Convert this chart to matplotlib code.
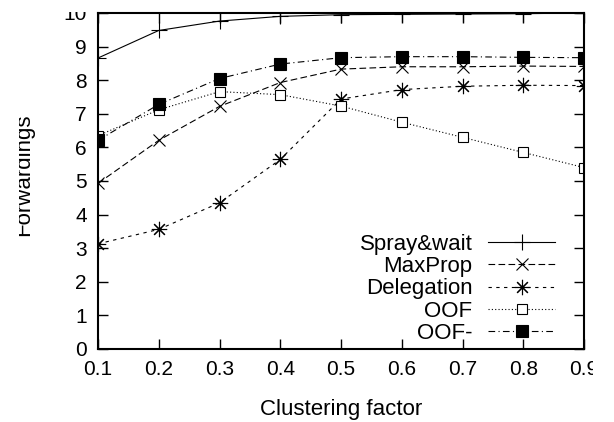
import matplotlib
matplotlib.use("Agg")
import matplotlib.pyplot as plt
from matplotlib.transforms import Bbox, TransformedBbox

plt.rcParams['font.family'] = ['Liberation Sans', 'DejaVu Sans']

clustering = [0.1, 0.2, 0.3, 0.4, 0.5, 0.6, 0.7, 0.8, 0.9]
spray_wait = [8.66, 9.48, 9.76, 9.90, 9.95, 9.96, 9.97, 9.98, 10.0]
maxprop = [4.93, 6.21, 7.22, 7.93, 8.33, 8.40, 8.40, 8.42, 8.41]
delegation = [3.13, 3.56, 4.35, 5.64, 7.44, 7.72, 7.82, 7.85, 7.84]
oof = [6.35, 7.12, 7.66, 7.57, 7.23, 6.75, 6.30, 5.85, 5.40]
oof_minus = [6.21, 7.28, 8.05, 8.48, 8.67, 8.70, 8.70, 8.68, 8.67]

W, H = 614, 422
fig = plt.figure(figsize=(W / 100, H / 100), dpi=100)
ax = fig.add_axes([98 / W, (H - 349) / H, 486 / W, 336 / H])

lw = 0.8
ax.plot(clustering, spray_wait, color='black', lw=lw, ls='-',
        marker='+', ms=11, mew=lw, label='Spray&wait')
ax.plot(clustering, maxprop, color='black', lw=lw, ls=(0, (6, 3)),
        marker='x', ms=9, mew=lw, label='MaxProp')
ax.plot(clustering, delegation, color='black', lw=lw, ls=(0, (3, 4)),
        marker=(8, 2, 0), ms=11, mew=lw, label='Delegation')
ax.plot(clustering, oof, color='black', lw=lw, ls=(0, (1, 2)),
        marker='s', ms=7, mew=lw, mfc='white', mec='black', label='OOF')
ax.plot(clustering, oof_minus, color='black', lw=lw, ls=(0, (6, 3, 1, 3)),
        marker='s', ms=8, mew=lw, mfc='black', mec='black', label='OOF-')

ax.set_xlim(0.1, 0.9)
ax.set_ylim(0, 10)
ax.set_xticks(clustering)
ax.set_xticklabels([f"{v:.1f}" for v in clustering])
ax.set_yticks(range(0, 11))
ax.tick_params(direction='in', length=7.5, width=1.0, top=True, right=True,
               labelsize=15, pad=8)
for s in ax.spines.values():
    s.set_linewidth(1.5)

ax.set_xlabel('Clustering factor', fontsize=16, labelpad=14)
ax.set_ylabel('Forwardings', fontsize=16)
ax.yaxis.set_label_coords(-0.131, 0.52)

leg = ax.legend(loc='lower right', bbox_to_anchor=(0.94, 0.015), frameon=False,
                markerfirst=False, numpoints=1, fontsize=16, handlelength=3.0,
                handletextpad=0.7, labelspacing=0.06, borderpad=0,
                borderaxespad=0)

# the page edges cut into the outer labels
edge = TransformedBbox(Bbox.from_extents(19 / W, 0, 593 / W, 410 / H),
                       fig.transFigure)
for t in ax.get_xticklabels() + ax.get_yticklabels() + [ax.yaxis.label]:
    t.set_clip_box(edge)
    t.set_clip_on(True)

fig.savefig('out.png', dpi=100)
